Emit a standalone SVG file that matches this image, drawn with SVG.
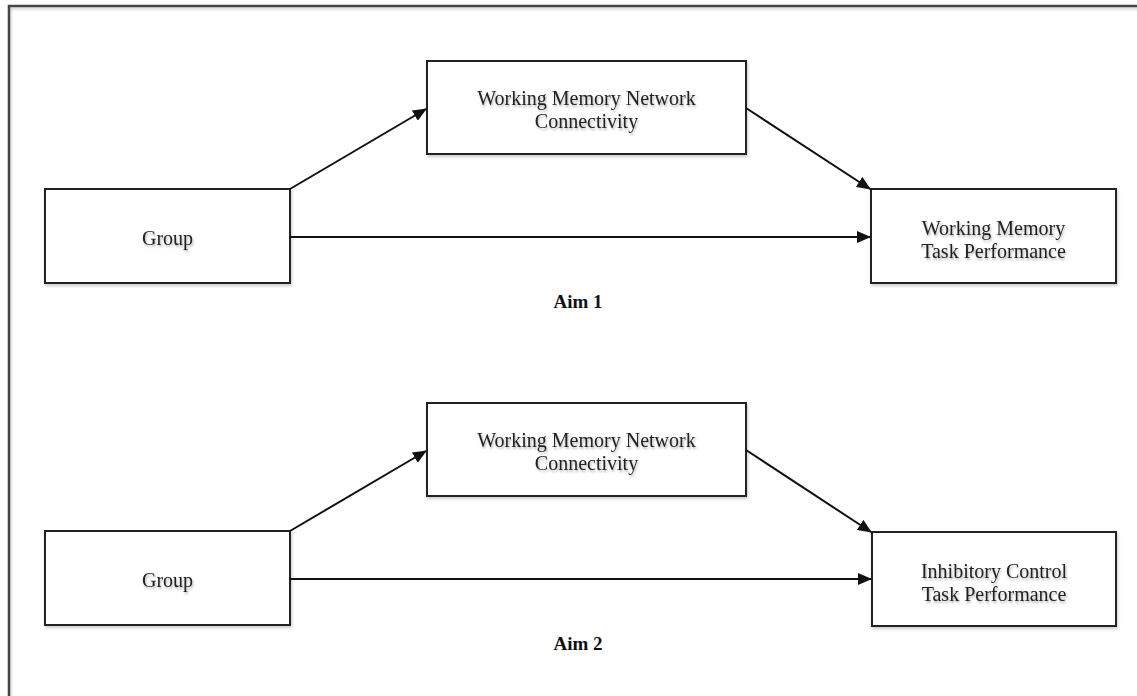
<svg xmlns="http://www.w3.org/2000/svg" width="1137" height="696" viewBox="0 0 1137 696">
<defs>
<marker id="arr" markerWidth="14" markerHeight="12" refX="13" refY="6" orient="auto" markerUnits="userSpaceOnUse">
<path d="M0,0 L14,6 L0,12 z" fill="#111"/>
</marker>
<filter id="ts" x="-10%" y="-30%" width="120%" height="160%">
<feDropShadow dx="1" dy="2" stdDeviation="1.2" flood-color="#000" flood-opacity="0.3"/>
</filter>
<filter id="bs" x="-5%" y="-10%" width="110%" height="120%">
<feDropShadow dx="1" dy="2" stdDeviation="1.5" flood-color="#000" flood-opacity="0.2"/>
</filter>
</defs>
<style>
.box{fill:#fff;stroke:#222;stroke-width:2;filter:url(#bs)}
.lbl{font-family:"Liberation Serif","Times New Roman",serif;font-size:20px;fill:#222;text-anchor:middle;filter:url(#ts)}
.aim{font-family:"Liberation Serif","Times New Roman",serif;font-size:19px;font-weight:bold;fill:#111;text-anchor:middle}
.con{stroke:#111;stroke-width:2;fill:none;marker-end:url(#arr)}
</style>
<rect width="1137" height="696" fill="#fff"/>
<path d="M9,700 L9,6 L1140,6" fill="none" stroke="#444" stroke-width="2.5" filter="url(#bs)"/>

<g id="aim1-group">
<rect class="box" x="45" y="189" width="245" height="94"/>
<text class="lbl" x="167.5" y="245">Group</text>
</g>
<g id="aim1-wmnc">
<rect class="box" x="427" y="61" width="319" height="93"/>
<text class="lbl" x="586.5" y="105">Working Memory Network</text>
<text class="lbl" x="586.5" y="128">Connectivity</text>
</g>
<g id="aim1-wmtp">
<rect class="box" x="871" y="189" width="245" height="94"/>
<text class="lbl" x="993.5" y="235">Working Memory</text>
<text class="lbl" x="993.5" y="258">Task Performance</text>
</g>
<text class="aim" x="578" y="308">Aim 1</text>

<g id="aim2-group">
<rect class="box" x="45" y="531" width="245" height="94"/>
<text class="lbl" x="167.5" y="587">Group</text>
</g>
<g id="aim2-wmnc">
<rect class="box" x="427" y="403" width="319" height="93"/>
<text class="lbl" x="586.5" y="447">Working Memory Network</text>
<text class="lbl" x="586.5" y="470">Connectivity</text>
</g>
<g id="aim2-ictp">
<rect class="box" x="872" y="532" width="244" height="94"/>
<text class="lbl" x="994" y="578">Inhibitory Control</text>
<text class="lbl" x="994" y="601">Task Performance</text>
</g>
<text class="aim" x="578" y="650">Aim 2</text>

<g id="connectors">
<line class="con" x1="290" y1="189" x2="426" y2="109"/>
<line class="con" x1="746" y1="108" x2="870" y2="189"/>
<line class="con" x1="290" y1="237" x2="870" y2="237"/>
<line class="con" x1="290" y1="531" x2="426" y2="451"/>
<line class="con" x1="746" y1="450" x2="871" y2="532"/>
<line class="con" x1="290" y1="579" x2="871" y2="579"/>
</g>
</svg>
